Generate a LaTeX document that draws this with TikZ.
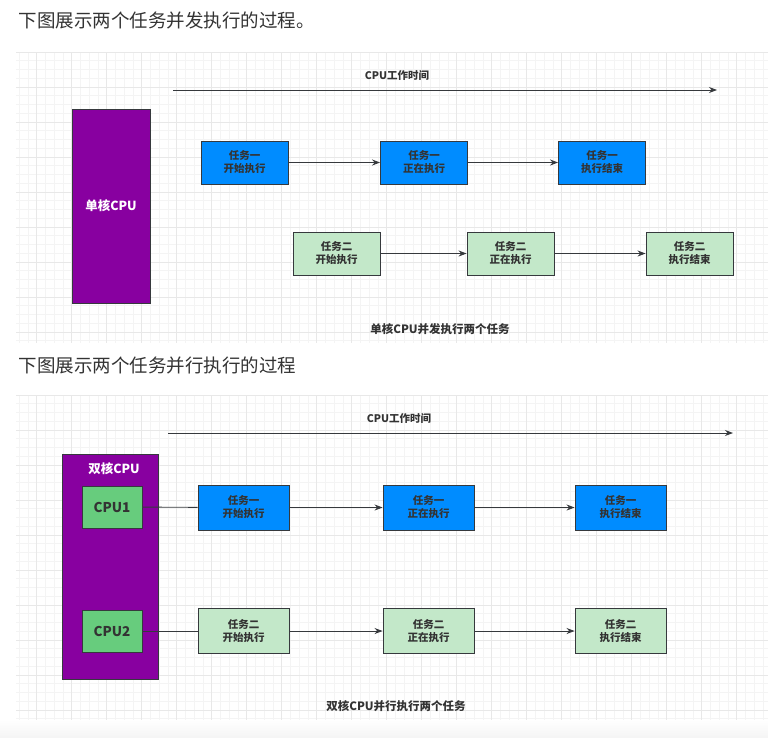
\documentclass[tikz,border=0pt]{standalone}
\usepackage{fontspec}
\setmainfont{Noto Sans CJK SC}
\usetikzlibrary{arrows.meta}
\definecolor{cpupurple}{RGB}{136,0,160}
\definecolor{taskblue}{RGB}{0,140,255}
\definecolor{tasktwo}{RGB}{195,232,201}
\definecolor{coregreen}{RGB}{103,204,125}
\definecolor{edgegray}{RGB}{54,57,61}
\definecolor{textgray}{RGB}{51,51,51}
\definecolor{gridminor}{RGB}{244,244,244}
\definecolor{gridmajor}{RGB}{232,232,232}
\begin{document}
\begin{tikzpicture}[
x=1pt, y=-1pt,
heading/.style={anchor=west, text=textgray, font=\fontsize{18.5}{21}\selectfont},
caption/.style={text=textgray, font=\bfseries\fontsize{11.5}{13}\selectfont},
timeline/.style={draw=edgegray, line width=0.9pt, -{Stealth[length=8pt,width=6pt]}},
flow/.style={draw=edgegray, line width=0.9pt, -{Stealth[length=8pt,width=6pt]}},
link/.style={draw=edgegray, line width=0.9pt},
cpu/.style={rectangle, draw=edgegray, fill=cpupurple, line width=0.9pt, text=white, font=\bfseries\fontsize{12.5}{14}\selectfont},
core/.style={rectangle, draw=edgegray, fill=coregreen, line width=0.9pt, minimum width=60pt, minimum height=42pt, inner sep=0pt, text=textgray, font=\bfseries\fontsize{13.5}{15}\selectfont},
taskone/.style={rectangle, draw=edgegray, fill=taskblue, line width=0.9pt, inner sep=0pt, align=center, text=textgray, font=\bfseries\fontsize{10.5}{13}\selectfont},
tasktwo/.style={taskone, fill=tasktwo},
small/.style={minimum width=87pt, minimum height=43pt},
large/.style={minimum width=91pt, minimum height=45pt},
]
\useasboundingbox (0,0) rectangle (768,737);
\fill[white] (0,0) rectangle (768,737);
% background grids
\foreach \top/\bot in {52/343, 395/720}{
  \begin{scope}
  \clip (16,\top) rectangle (768,\bot);
  \foreach \k in {0,...,86}{
    \draw[gridminor, line width=0.6pt] ({19.2+8.75*\k},\top) -- ({19.2+8.75*\k},\bot);
  }
  \foreach \k in {0,...,37}{
    \draw[gridminor, line width=0.6pt] (16,{\top+8.75*\k}) -- (768,{\top+8.75*\k});
  }
  \foreach \k in {0,...,21}{
    \draw[gridmajor, line width=0.7pt] ({36.7+35*\k},\top) -- ({36.7+35*\k},\bot);
  }
  \foreach \k in {0,...,9}{
    \draw[gridmajor, line width=0.7pt] (16,{\top+35*\k}) -- (768,{\top+35*\k});
  }
  \end{scope}
}
\shade[top color=white, bottom color=gray!8] (0,720) rectangle (768,737);

% single core, concurrent
\node[heading] (h1) at (15,20) {下图展示两个任务并发执行的过程。};
\node[caption, font=\bfseries\fontsize{10.5}{12}\selectfont] (tl1) at (397,76) {CPU工作时间};
\coordinate (ts1) at (173,90);
\coordinate (te1) at (717,90);
\draw[timeline] (ts1) -- (te1);
\node[cpu, minimum width=78pt, minimum height=194pt] (single) at (111,206) {单核CPU};
\node[taskone, small] (A1) at (244.5,162.5) {任务一\\开始执行};
\node[taskone, small] (A2) at (424,162.5) {任务一\\正在执行};
\node[taskone, small] (A3) at (602,162.5) {任务一\\执行结束};
\node[tasktwo, small] (B1) at (336.5,253.5) {任务二\\开始执行};
\node[tasktwo, small] (B2) at (510.5,253.5) {任务二\\正在执行};
\node[tasktwo, small] (B3) at (689.5,253.5) {任务二\\执行结束};
\draw[flow] (A1) -- (A2);
\draw[flow] (A2) -- (A3);
\draw[flow] (B1) -- (B2);
\draw[flow] (B2) -- (B3);
\node[caption] (c1) at (440,329) {单核CPU并发执行两个任务};

% dual core, parallel
\node[heading] (h2) at (15,365) {下图展示两个任务并行执行的过程};
\node[caption, font=\bfseries\fontsize{10.5}{12}\selectfont] (tl2) at (399,419) {CPU工作时间};
\coordinate (ts2) at (168,433);
\coordinate (te2) at (733,433);
\draw[timeline] (ts2) -- (te2);
\node[cpu, minimum width=96pt, minimum height=225pt] (dual) at (110,566.5) {};
\node[text=white, font=\bfseries\fontsize{12.5}{14}\selectfont] (dualname) at (114,469) {双核CPU};
\node[core] (cpu1) at (112,507) {CPU1};
\node[core] (cpu2) at (112,631) {CPU2};
\node[taskone, large] (C1) at (243.5,507.5) {任务一\\开始执行};
\node[taskone, large] (C2) at (428.5,507.5) {任务一\\正在执行};
\node[taskone, large] (C3) at (620.5,507.5) {任务一\\执行结束};
\node[tasktwo, large] (D1) at (243.5,631) {任务二\\开始执行};
\node[tasktwo, large] (D2) at (428.5,631) {任务二\\正在执行};
\node[tasktwo, large] (D3) at (620.5,631) {任务二\\执行结束};
\draw[link] (cpu1) -- (C1);
\draw[link] (cpu2) -- (D1);
\draw[flow] (C1) -- (C2);
\draw[flow] (C2) -- (C3);
\draw[flow] (D1) -- (D2);
\draw[flow] (D2) -- (D3);
\node[caption] (c2) at (396,706) {双核CPU并行执行两个任务};
\end{tikzpicture}
\end{document}
